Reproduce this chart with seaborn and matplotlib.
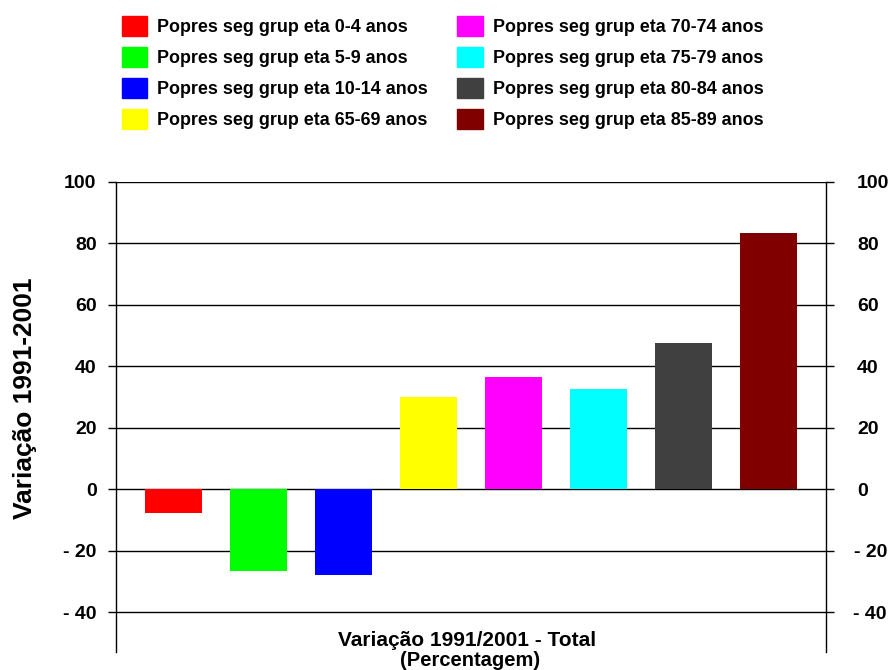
import matplotlib
matplotlib.use('Agg')
import matplotlib.pyplot as plt
from matplotlib.ticker import FuncFormatter
import pandas as pd
import seaborn as sns

groups = ['Popres seg grup eta 0-4 anos', 'Popres seg grup eta 5-9 anos',
          'Popres seg grup eta 10-14 anos', 'Popres seg grup eta 65-69 anos',
          'Popres seg grup eta 70-74 anos', 'Popres seg grup eta 75-79 anos',
          'Popres seg grup eta 80-84 anos', 'Popres seg grup eta 85-89 anos']
values = [-7.8, -26.5, -27.8, 29.9, 36.7, 32.5, 47.7, 83.5]
colors = ['#ff0000', '#00ff00', '#0000ff', '#ffff00',
          '#ff00ff', '#00ffff', '#404040', '#800000']

df = pd.DataFrame({'grupo': groups, 'variacao': values})

sns.set_style('white')
plt.rcParams['font.family'] = ['Liberation Sans', 'DejaVu Sans']
plt.rcParams['font.weight'] = 'bold'
plt.rcParams['text.color'] = 'black'
plt.rcParams['axes.labelcolor'] = 'black'
plt.rcParams['ytick.color'] = 'black'

fig = plt.figure(figsize=(8.93, 6.7), dpi=100)
ax = fig.add_axes([116 / 893, 1 - 652 / 670, 710 / 893, (652 - 182) / 670])

sns.barplot(data=df, x='grupo', y='variacao', hue='grupo', palette=colors,
            dodge=False, width=0.67, saturation=1, legend=False, linewidth=0, ax=ax)

ax.set_xlim(-0.676, 7.676)
ax.set_ylim(-52.9, 100)
ax.set_yticks(range(-40, 101, 20))
ax.yaxis.set_major_formatter(FuncFormatter(lambda v, p: f'- {abs(int(v))}' if v < 0 else f'{int(v)}'))
ax.set_xticks([])
ax.set_xlabel('')
ax.set_ylabel('')
ax.yaxis.grid(True, color='black', linewidth=1)
ax.set_axisbelow(True)
for s in ['top', 'bottom']:
    ax.spines[s].set_visible(False)
for s in ['left', 'right']:
    ax.spines[s].set_color('black')
    ax.spines[s].set_linewidth(1)
ax.tick_params(axis='y', left=True, right=True, labelleft=True, labelright=True,
               direction='out', length=6, width=1, color='black',
               labelsize=14, pad=8)

# right-hand labels: positives start at a fixed column, negatives end further right
for t, v in zip(ax.yaxis.get_major_ticks(), ax.get_yticks()):
    t.label1.set_fontweight('bold')
    t.label2.set_fontweight('bold')
    if v < 0:
        t.label2.set_horizontalalignment('right')
        t.label2.set_x(1 + 41.5 / 710)
    else:
        t.label2.set_x(1 + 11.5 / 710)

fig.text(25 / 893, 1 - 398 / 670, 'Variação 1991-2001', rotation=90, ha='center', va='center',
         fontsize=19, fontweight='bold')
fig.text(467 / 893, 1 - 640 / 670, 'Variação 1991/2001 - Total', ha='center', va='center',
         fontsize=15, fontweight='bold')
fig.text(470 / 893, 1 - 661 / 670, '(Percentagem)', ha='center', va='center',
         fontsize=14.5, fontweight='bold')

handles = [plt.Rectangle((0, 0), 1, 1, color=c) for c in colors]
fig.legend(handles, groups, ncol=2, loc='upper left', bbox_to_anchor=(122 / 893, 1 - 16 / 670),
           frameon=False, prop={'size': 12.9, 'weight': 'bold'}, borderpad=0, borderaxespad=0,
           handlelength=1.4, handleheight=1.3, handletextpad=0.56,
           columnspacing=1.65, labelspacing=0.63)

fig.savefig('out.png', dpi=100)
